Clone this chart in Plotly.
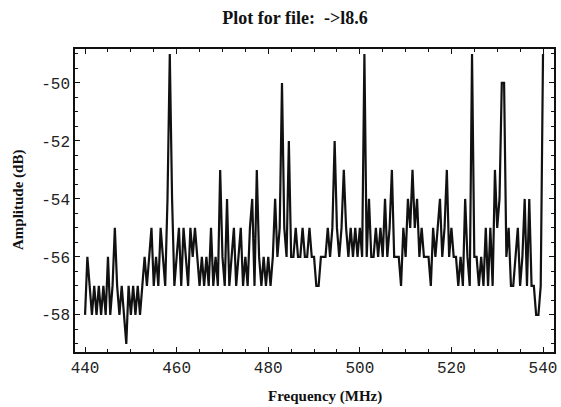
import numpy as np
import plotly.graph_objects as go

# Frequency grid (MHz), sampled every 0.5 MHz from 440 to 540
freq_start = 440.0
freq_step = 0.5

# Amplitude (dB), one row per 5 MHz (10 samples each)
amp_440 = [-58, -56, -57, -58, -57, -58, -57, -58, -57, -58]
amp_445 = [-56, -58, -57, -55, -57, -58, -57, -58, -59, -57]
amp_450 = [-58, -57, -58, -57, -58, -57, -56, -57, -56, -55]
amp_455 = [-57, -56, -57, -55, -56, -57, -54, -49, -54, -57]
amp_460 = [-56, -55, -57, -55, -56, -57, -55, -56, -55, -56]
amp_465 = [-57, -56, -57, -56, -57, -55, -57, -56, -57, -53]
amp_470 = [-56, -57, -54, -57, -56, -55, -57, -56, -55, -57]
amp_475 = [-56, -57, -55, -54, -57, -53, -56, -57, -56, -57]
amp_480 = [-56, -57, -56, -54, -56, -55, -50, -55, -56, -52]
amp_485 = [-56, -56, -55, -56, -56, -55, -56, -56, -55, -56]
amp_490 = [-56, -57, -57, -56, -56, -56, -55, -56, -55, -52]
amp_495 = [-55, -56, -55, -53, -55, -56, -55, -56, -55, -56]
amp_500 = [-55, -56, -49, -56, -54, -56, -56, -55, -56, -55]
amp_505 = [-56, -54, -56, -55, -53, -56, -56, -56, -57, -55]
amp_510 = [-56, -54, -55, -53, -55, -54, -56, -55, -56, -56]
amp_515 = [-56, -57, -55, -56, -55, -54, -56, -55, -53, -56]
amp_520 = [-55, -56, -56, -57, -56, -57, -54, -56, -57, -49]
amp_525 = [-56, -56, -57, -56, -57, -55, -57, -55, -57, -53]
amp_530 = [-55, -54, -50, -50, -56, -55, -57, -57, -56, -55]
amp_535 = [-57, -56, -54, -57, -54, -57, -57, -58, -58, -57]
amp_540 = [-49]

amplitude = (amp_440 + amp_445 + amp_450 + amp_455 + amp_460 + amp_465 + amp_470
             + amp_475 + amp_480 + amp_485 + amp_490 + amp_495 + amp_500 + amp_505
             + amp_510 + amp_515 + amp_520 + amp_525 + amp_530 + amp_535 + amp_540)
frequency = [freq_start + freq_step * i for i in range(len(amplitude))]

x_tick_vals = [440, 460, 480, 500, 520, 540]
x_tick_text = ["440", "460", "480", "500", "520", "540"]
y_tick_vals = [-50, -52, -54, -56, -58]
y_tick_text = ["-50", "-52", "-54", "-56", "-58"]

title_text = "Plot for file:  ->l8.6"
x_title = "Frequency (MHz)"
y_title = "Amplitude (dB)"

W, H = 561, 407
ML, MR, MT, MB = 75, 7, 49, 55
fig = go.Figure()
fig.add_trace(go.Scatter(
    x=frequency, y=amplitude, mode="lines",
    line=dict(color="#111111", width=2.2),
    showlegend=False, hoverinfo="skip",
))

mono = dict(family="Liberation Mono, Courier New, monospace", size=16, color="#222222")
serif_bold = "Liberation Serif, Times New Roman, serif"


def to_paper(px_x, px_y):
    return (px_x - ML) / (W - ML - MR), 1 - (px_y - MT) / (H - MT - MB)


fx, fy = to_paper(325, 396)
ax_, ay_ = to_paper(19, 200)

fig.update_layout(
    width=W, height=H,
    margin=dict(l=ML, r=MR, t=MT, b=MB),
    paper_bgcolor="white", plot_bgcolor="white",
    title=dict(text="<b>" + title_text + "</b>", x=295 / W, xanchor="center",
               xref="container", yref="container",
               y=1 - 18 / H, yanchor="middle",
               font=dict(family=serif_bold, size=18, color="#111111")),
    annotations=[
        dict(text="<b>" + x_title + "</b>", x=fx, y=fy,
             xref="paper", yref="paper", showarrow=False,
             xanchor="center", yanchor="middle",
             font=dict(family=serif_bold, size=15, color="#111111")),
        dict(text="<b>" + y_title + "</b>", x=ax_, y=ay_,
             xref="paper", yref="paper", showarrow=False, textangle=-90,
             xanchor="center", yanchor="middle",
             font=dict(family=serif_bold, size=15, color="#111111")),
    ],
)

fig.update_xaxes(
    range=[437.8, 542.4], tickvals=x_tick_vals, ticktext=x_tick_text,
    ticks="inside", ticklen=5, tickwidth=1.2, tickcolor="#111111",
    minor=dict(dtick=5, tick0=440, ticks="inside", ticklen=3, tickcolor="#111111"),
    showline=True, linecolor="#111111", linewidth=1.5, mirror="ticks",
    showgrid=False, zeroline=False, tickfont=mono, automargin=False,
)
fig.update_yaxes(
    range=[-59.28, -48.83], tickvals=y_tick_vals, ticktext=y_tick_text,
    ticks="inside", ticklen=5, tickwidth=1.2, tickcolor="#111111",
    minor=dict(dtick=0.5, tick0=-50, ticks="inside", ticklen=3, tickcolor="#111111"),
    showline=True, linecolor="#111111", linewidth=1.5, mirror="ticks",
    showgrid=False, zeroline=False, tickfont=mono, automargin=False,
)

fig.write_html("out.html", config={"displayModeBar": False},
               post_script="document.body.style.margin='0';document.body.style.padding='0';")
